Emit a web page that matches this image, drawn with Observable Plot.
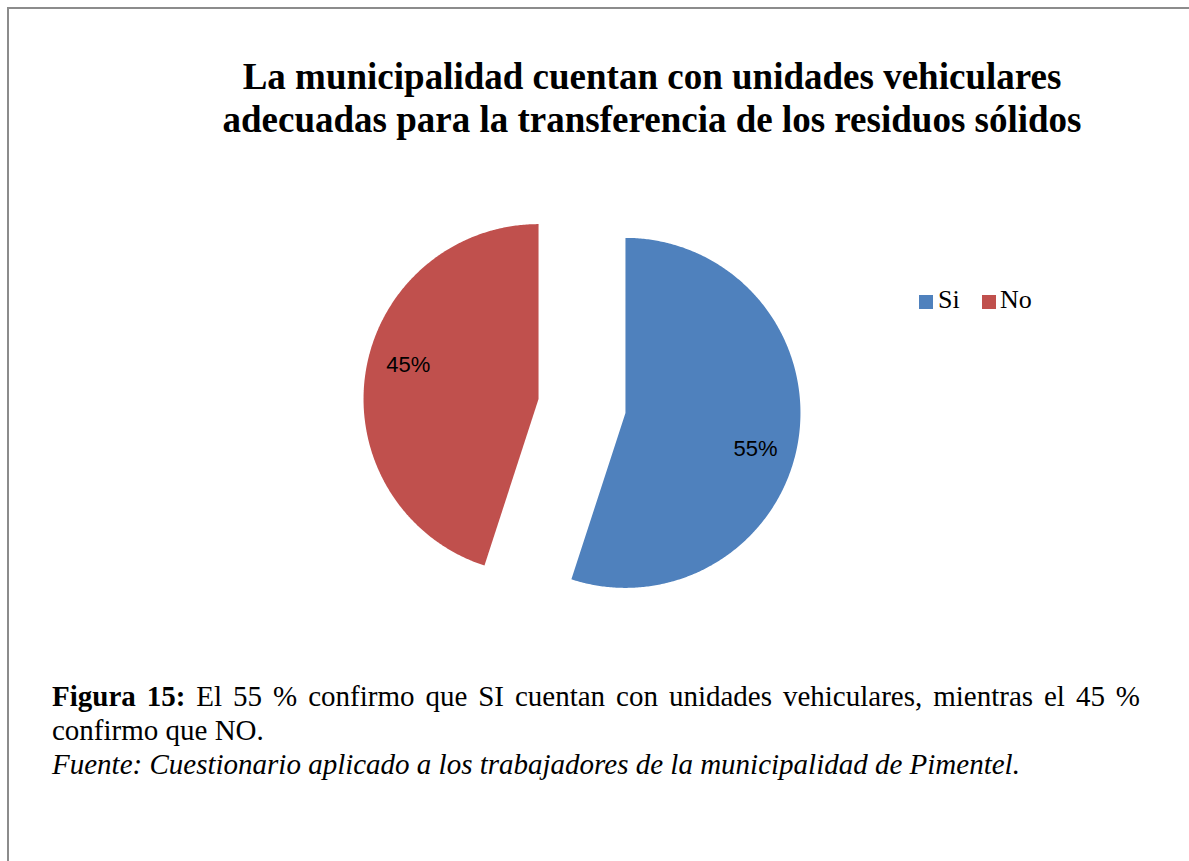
<!DOCTYPE html>
<html>
<head>
<meta charset="utf-8">
<script src="https://cdn.jsdelivr.net/npm/d3@7"></script>
<script src="https://cdn.jsdelivr.net/npm/@observablehq/plot@0.6"></script>
<style>
  html, body { margin: 0; padding: 0; background: #fff; }
  #page { position: relative; width: 1189px; height: 861px; overflow: hidden; background: #fff; }
  #frame { position: absolute; left: 7px; top: 7px; right: -10px; bottom: -10px;
           border-left: 2px solid #8c8c8c; border-top: 2px solid #8c8c8c; }
  #title { position: absolute; left: 0; width: 1304px; top: 55px; text-align: center;
           font-family: "Liberation Serif", "Times New Roman", serif; font-weight: bold;
           font-size: 37px; line-height: 43px; color: #000; }
  #chart { position: absolute; left: 0; top: 190px; }
  .legtext { position: absolute; top: 285px; font-family: "Liberation Serif", serif;
             font-size: 26px; line-height: 30px; color: #000; }
  .legsw { position: absolute; top: 295px; width: 14px; height: 14px; }
  #caption { position: absolute; left: 52px; width: 1088px; top: 679px;
             font-family: "Liberation Serif", "Times New Roman", serif; font-size: 29px;
             line-height: 34px; color: #000; }
  #caption .l1 { text-align: justify; text-align-last: justify; white-space: nowrap; }
  #caption .l1 { white-space: normal; }
</style>
</head>
<body>
<div id="page">
  <div id="frame"></div>
  <div id="title"></div>
  <div id="chart"></div>
  <div id="legend"></div>
  <div id="caption"></div>
</div>
<script>
// ---- data ----
const titleLines = ["La municipalidad cuentan con unidades vehiculares",
                    "adecuadas para la transferencia de los residuos sólidos"];
const categories = ["Si", "No"];
const values = [55, 45];
const valueLabels = ["55%", "45%"];
const colors = ["#4F81BD", "#C0504D"];
const captionBold = "Figura 15:";
const captionLine1 = " El 55 % confirmo que SI cuentan con unidades vehiculares, mientras el 45 %";
const captionLine2 = "confirmo que NO.";
const sourceLine = "Fuente: Cuestionario aplicado a los trabajadores de la municipalidad de Pimentel.";

// ---- title ----
document.getElementById("title").innerHTML = titleLines.join("<br>");

// ---- pie geometry (computed from values) ----
const W = 1189, H = 430;
const cx = 581.5, cy = 215.5, R = 175, explode = 44;
const arcs = d3.pie().sort(null).value(d => d)(values);
const pts = [];
const labs = [];
arcs.forEach((a, i) => {
  const cat = categories[i];
  const m = (a.startAngle + a.endAngle) / 2;
  const ox = cx + explode * Math.sin(m);
  const oy = cy - explode * Math.cos(m);
  pts.push({cat, x: ox, y: oy});
  const n = Math.ceil((a.endAngle - a.startAngle) / (Math.PI / 360));
  for (let k = 0; k <= n; k++) {
    const t = a.startAngle + (a.endAngle - a.startAngle) * k / n;
    pts.push({cat, x: ox + R * Math.sin(t), y: oy - R * Math.cos(t)});
  }
  pts.push({cat, x: ox, y: oy});
  const la = m + 6 * Math.PI / 180;
  labs.push({label: valueLabels[i], x: ox + 0.77 * R * Math.sin(la), y: oy - 0.77 * R * Math.cos(la)});
});

const chart = Plot.plot({
  width: W, height: H,
  margin: 0,
  style: {background: "transparent", overflow: "visible"},
  x: {domain: [0, W], range: [0, W], axis: null},
  y: {domain: [0, H], range: [0, H], axis: null},
  color: {domain: categories, range: colors},
  marks: [
    Plot.line(pts, {x: "x", y: "y", z: "cat", fill: "cat", stroke: "none", curve: "linear"}),
    Plot.text(labs, {x: "x", y: "y", text: "label", fill: "#000",
      fontFamily: "Liberation Sans, Arial, sans-serif", fontSize: 22, textAnchor: "middle", dy: 1})
  ]
});
document.getElementById("chart").appendChild(chart);

// ---- legend ----
const leg = document.getElementById("legend");
const swX = [919, 982], txX = [938, 1000];
categories.forEach((c, i) => {
  const sw = document.createElement("div");
  sw.className = "legsw"; sw.style.left = swX[i] + "px"; sw.style.background = colors[i];
  leg.appendChild(sw);
  const tx = document.createElement("div");
  tx.className = "legtext"; tx.style.left = txX[i] + "px"; tx.textContent = c;
  leg.appendChild(tx);
});

// ---- caption ----
const cap = document.getElementById("caption");
const l1 = document.createElement("div"); l1.className = "l1";
const b = document.createElement("b"); b.textContent = captionBold;
l1.appendChild(b); l1.appendChild(document.createTextNode(captionLine1));
cap.appendChild(l1);
const l2 = document.createElement("div"); l2.textContent = captionLine2; cap.appendChild(l2);
const l3 = document.createElement("div"); l3.style.fontStyle = "italic"; l3.textContent = sourceLine; cap.appendChild(l3);
</script>
</body>
</html>
